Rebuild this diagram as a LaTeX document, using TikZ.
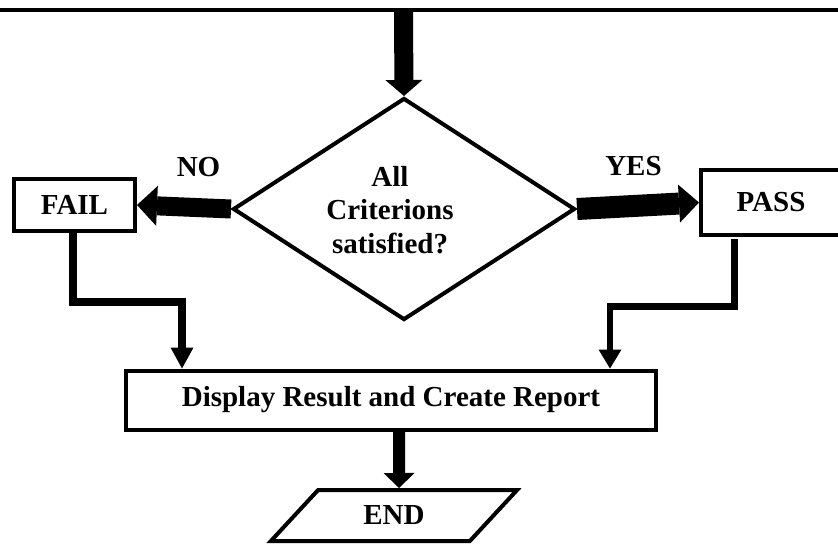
\documentclass[tikz,border=0pt]{standalone}
\usepackage{fontspec}
\setmainfont{Liberation Serif}
\usetikzlibrary{arrows.meta,shapes.geometric}

\begin{document}
\begin{tikzpicture}[x=1pt,y=-1pt,line join=miter,
        every node/.style={font=\fontsize{29}{33.5}\selectfont\bfseries},
        box/.style={draw,line width=4pt,inner sep=0pt},
        fat/.style n args={3}{line width=#1,-{Triangle[length=#2,width=#3,line width=0pt]}},
        elbow/.style n args={3}{line width=#1,-{Triangle[length=#2,width=#3,line width=0pt]}}]
    \clip (0,0) rectangle (838,549);
    % top rule and incoming arrow
    \draw [line width=4pt] (0,10) -- (838,10);
    \coordinate (in) at (403.5,12);
    % shapes
    \node [box,diamond,minimum width=342pt,minimum height=222pt] (dec) at (404,209) {};
    \node [align=center] (crit) at (390,210) {All\\Criterions\\satisfied?};
    \node [box,minimum width=121pt,minimum height=52pt] (fail) at (74.5,205) {FAIL};
    \node [box,minimum width=140pt,minimum height=65pt] (pass) at (771,202.5) {PASS};
    \node [box,minimum width=529.5pt,minimum height=59pt] (disp) at (391,400) {Display Result and Create Report};
    \node [box,trapezium,trapezium left angle=45,trapezium right angle=135,trapezium stretches=true,
           minimum width=248pt,minimum height=51pt] (fin) at (394,515.5) {END};
    % labels
    \node (no) at (198.5,167) {NO};
    \node (yes) at (633.5,166) {YES};
    % arrows
    \draw [fat={19pt}{16pt}{37pt}] (in) -- (dec.north);
    \draw [fat={19pt}{20pt}{40pt}] (dec.west) -- (fail.east);
    \draw [fat={22pt}{20pt}{38pt}] (dec.east) -- (pass.west);
    \draw [fat={12pt}{15pt}{31pt}] ([xshift=8pt]disp.south) -- ([xshift=5pt]fin.north);
    \draw [elbow={8pt}{21pt}{23pt}] ([xshift=-2pt]fail.south) -- ++(0,69) -| ([xshift=-209pt]disp.north);
    \draw [elbow={6.5pt}{19pt}{23pt}] ([xshift=-36.5pt,yshift=-2pt]pass.south) -- ++(0,67.5) -| ([xshift=219pt]disp.north);
\end{tikzpicture}
\end{document}
